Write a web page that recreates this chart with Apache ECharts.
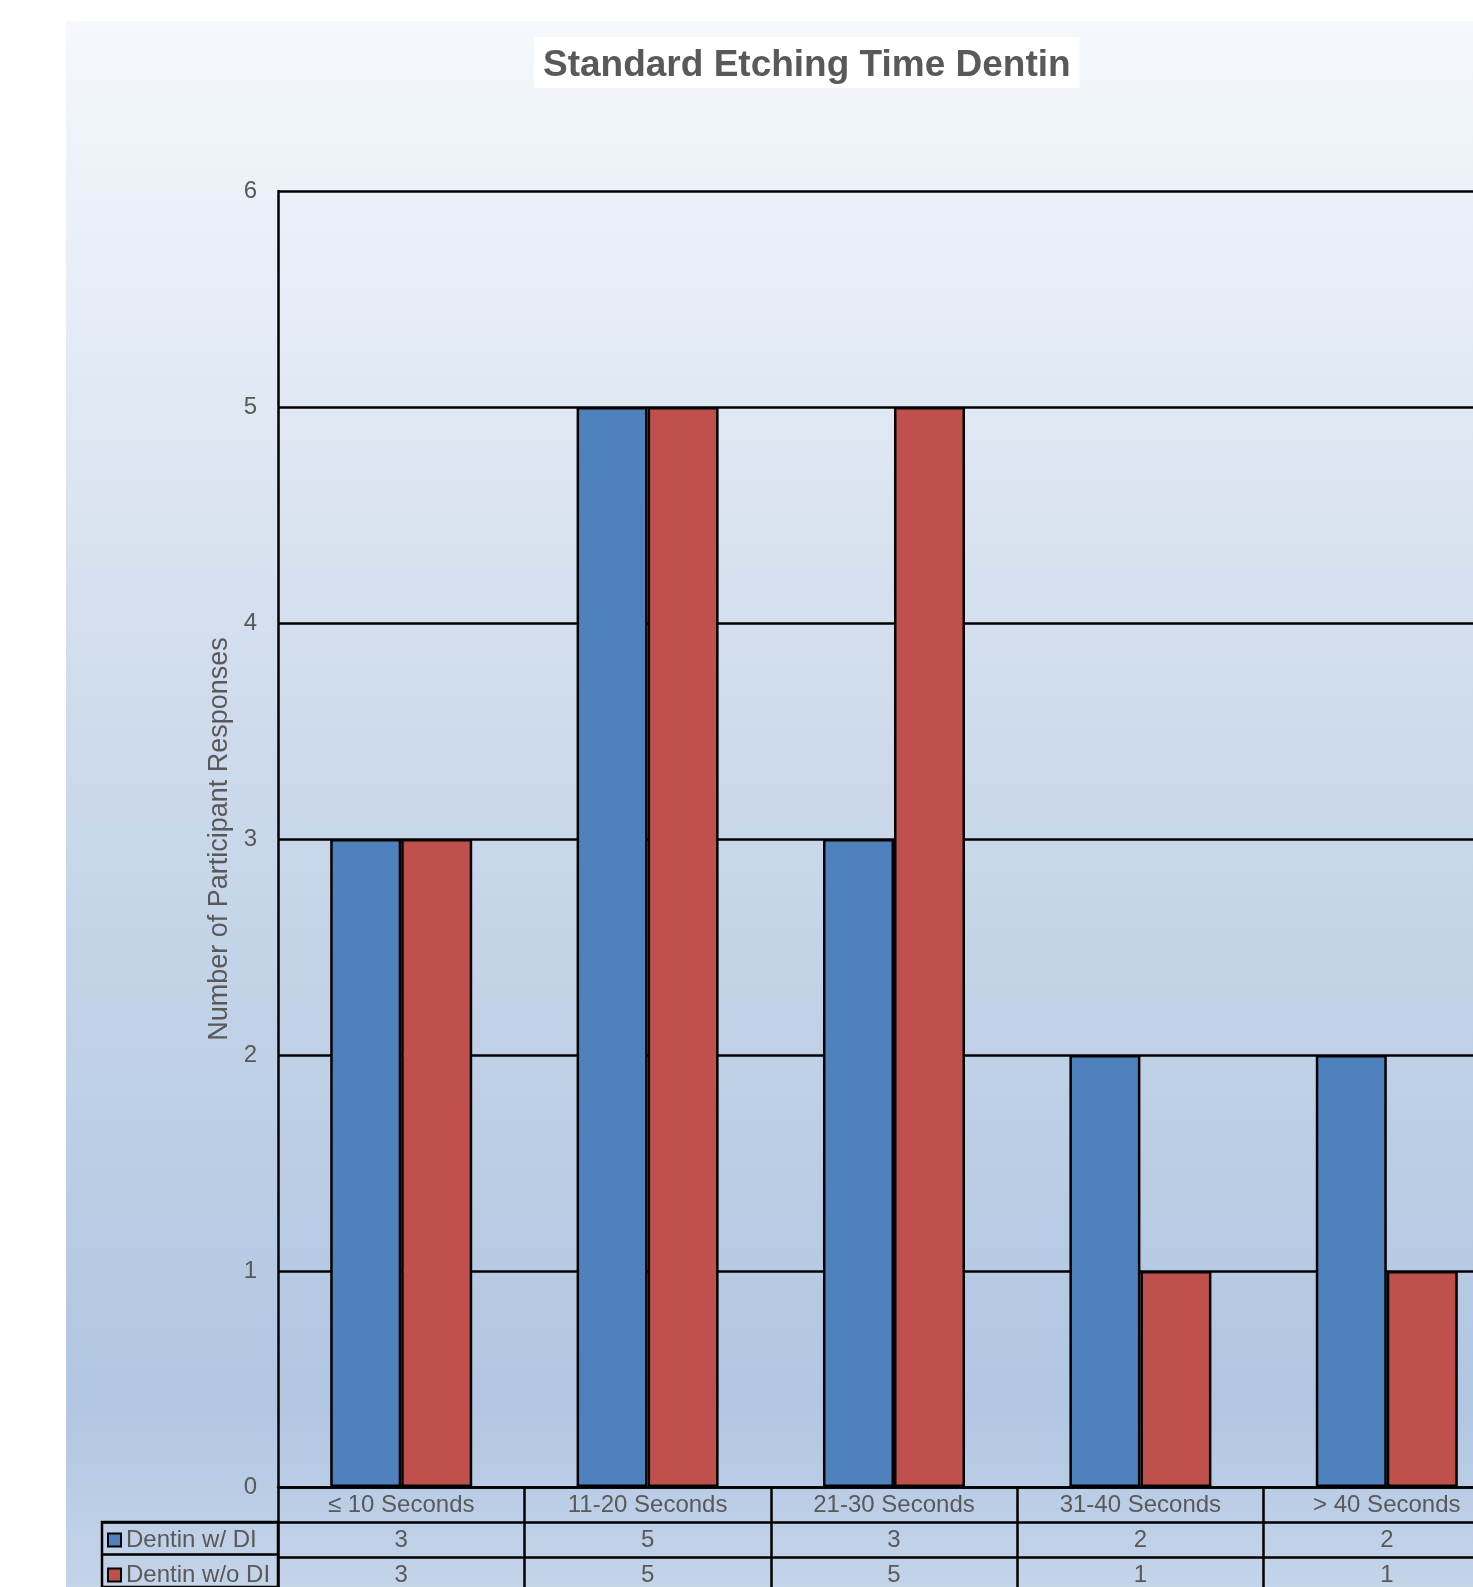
<!DOCTYPE html>
<html><head><meta charset="utf-8">
<script src="https://cdn.jsdelivr.net/npm/echarts@6/dist/echarts.min.js"></script>
<style>html,body{margin:0;padding:0;background:#fff;overflow:hidden;width:1473px;height:1587px;}#c{width:1560px;height:1587px;}</style>
</head><body><div id="c"></div>
<script>
// ---- data ----
const chartTitle = 'Standard Etching Time Dentin';
const yAxisTitle = 'Number of Participant Responses';
const categories = ['≤ 10 Seconds', '11-20 Seconds', '21-30 Seconds', '31-40 Seconds', '> 40 Seconds'];
const seriesNames = ['Dentin w/ DI', 'Dentin w/o DI'];
const dentinWithDI = [3, 5, 3, 2, 2];
const dentinWithoutDI = [3, 5, 5, 1, 1];
const yMin = 0, yMax = 6, yStep = 1;

// ---- styles ----
const FONT = "'Liberation Sans', Arial, sans-serif";
const TXT = '#595959';
const BLUE = '#4F81BD';
const RED = '#C0504D';
const LINE = '#000000';
const LW = 2.5;

const chart = echarts.init(document.getElementById('c'), null, {renderer: 'canvas'});

const tableAxis = (offset, values) => ({
  type: 'category', gridIndex: 0, position: 'bottom', offset: offset,
  data: categories,
  axisLine: {show: true, lineStyle: {color: LINE, width: LW}},
  axisTick: {show: false}, splitLine: {show: false},
  axisLabel: {
    show: true, interval: 0, margin: 6, color: TXT, fontSize: 24, lineHeight: 24, fontFamily: FONT,
    formatter: (v, i) => String(values[i])
  }
});

const option = {
  backgroundColor: '#ffffff',
  animation: false,
  textStyle: {fontFamily: FONT},
  graphic: [{
    type: 'rect', z: -100, silent: true,
    shape: {x: 66, y: 21, width: 1494, height: 1566},
    style: {
      fill: new echarts.graphic.LinearGradient(0, 0, 0, 1, [
        {offset: 0, color: '#F5F8FC'},
        {offset: 0.47, color: '#CCDAEB'},
        {offset: 0.88, color: '#B1C6E2'},
        {offset: 1, color: '#C4D4E9'}
      ])
    }
  }],
  title: {
    text: chartTitle,
    left: 534, top: 37,
    backgroundColor: '#ffffff',
    padding: [10, 9, 4, 9],
    textStyle: {fontSize: 37, lineHeight: 37, fontWeight: 'bold', color: TXT, fontFamily: FONT}
  },
  legend: {
    data: seriesNames,
    orient: 'vertical',
    left: 107, top: 1528,
    padding: 0,
    itemGap: 11,
    itemWidth: 13, itemHeight: 13,
    icon: 'rect',
    itemStyle: {borderColor: LINE, borderWidth: 2},
    textStyle: {color: TXT, fontSize: 24, lineHeight: 24, fontFamily: FONT}
  },
  grid: [
    {left: 278, top: 191, width: 1232, height: 1296, containLabel: false, show: false},
    {left: 102, top: 1522, width: 176, height: 70, show: true, borderColor: LINE, borderWidth: LW, backgroundColor: 'transparent'}
  ],
  xAxis: [
    {
      type: 'category', gridIndex: 0, position: 'bottom', data: categories,
      boundaryGap: true,
      axisLine: {show: true, lineStyle: {color: LINE, width: LW}},
      axisTick: {show: true, alignWithLabel: false, inside: false, length: 104, lineStyle: {color: LINE, width: LW}},
      axisLabel: {show: true, interval: 0, margin: 6, color: TXT, fontSize: 24, lineHeight: 24, fontFamily: FONT},
      splitLine: {show: false}
    },
    tableAxis(35, dentinWithDI),
    tableAxis(70, dentinWithoutDI),
    {type: 'value', gridIndex: 1, show: false}
  ],
  yAxis: [
    {
      type: 'value', gridIndex: 0, min: yMin, max: yMax, interval: yStep,
      name: yAxisTitle, nameLocation: 'middle', nameRotate: 90, nameGap: 43,
      nameTextStyle: {color: TXT, fontSize: 27, fontFamily: FONT},
      axisLine: {show: true, lineStyle: {color: LINE, width: LW}},
      axisTick: {show: false},
      axisLabel: {margin: 21, color: TXT, fontSize: 24, fontFamily: FONT},
      splitLine: {show: true, lineStyle: {color: LINE, width: LW}}
    },
    {
      type: 'category', gridIndex: 1, data: seriesNames, inverse: true,
      axisLine: {show: false}, axisTick: {show: false}, axisLabel: {show: false},
      splitLine: {show: true, lineStyle: {color: LINE, width: LW}}
    }
  ],
  series: [
    {
      name: seriesNames[0], type: 'bar', xAxisIndex: 0, yAxisIndex: 0,
      data: dentinWithDI, barWidth: 71, barGap: '0%',
      itemStyle: {color: BLUE, borderColor: LINE, borderWidth: 2.5}
    },
    {
      name: seriesNames[1], type: 'bar', xAxisIndex: 0, yAxisIndex: 0,
      data: dentinWithoutDI, barWidth: 71, barGap: '0%',
      itemStyle: {color: RED, borderColor: LINE, borderWidth: 2.5}
    }
  ]
};
chart.setOption(option);
</script>
</body></html>
